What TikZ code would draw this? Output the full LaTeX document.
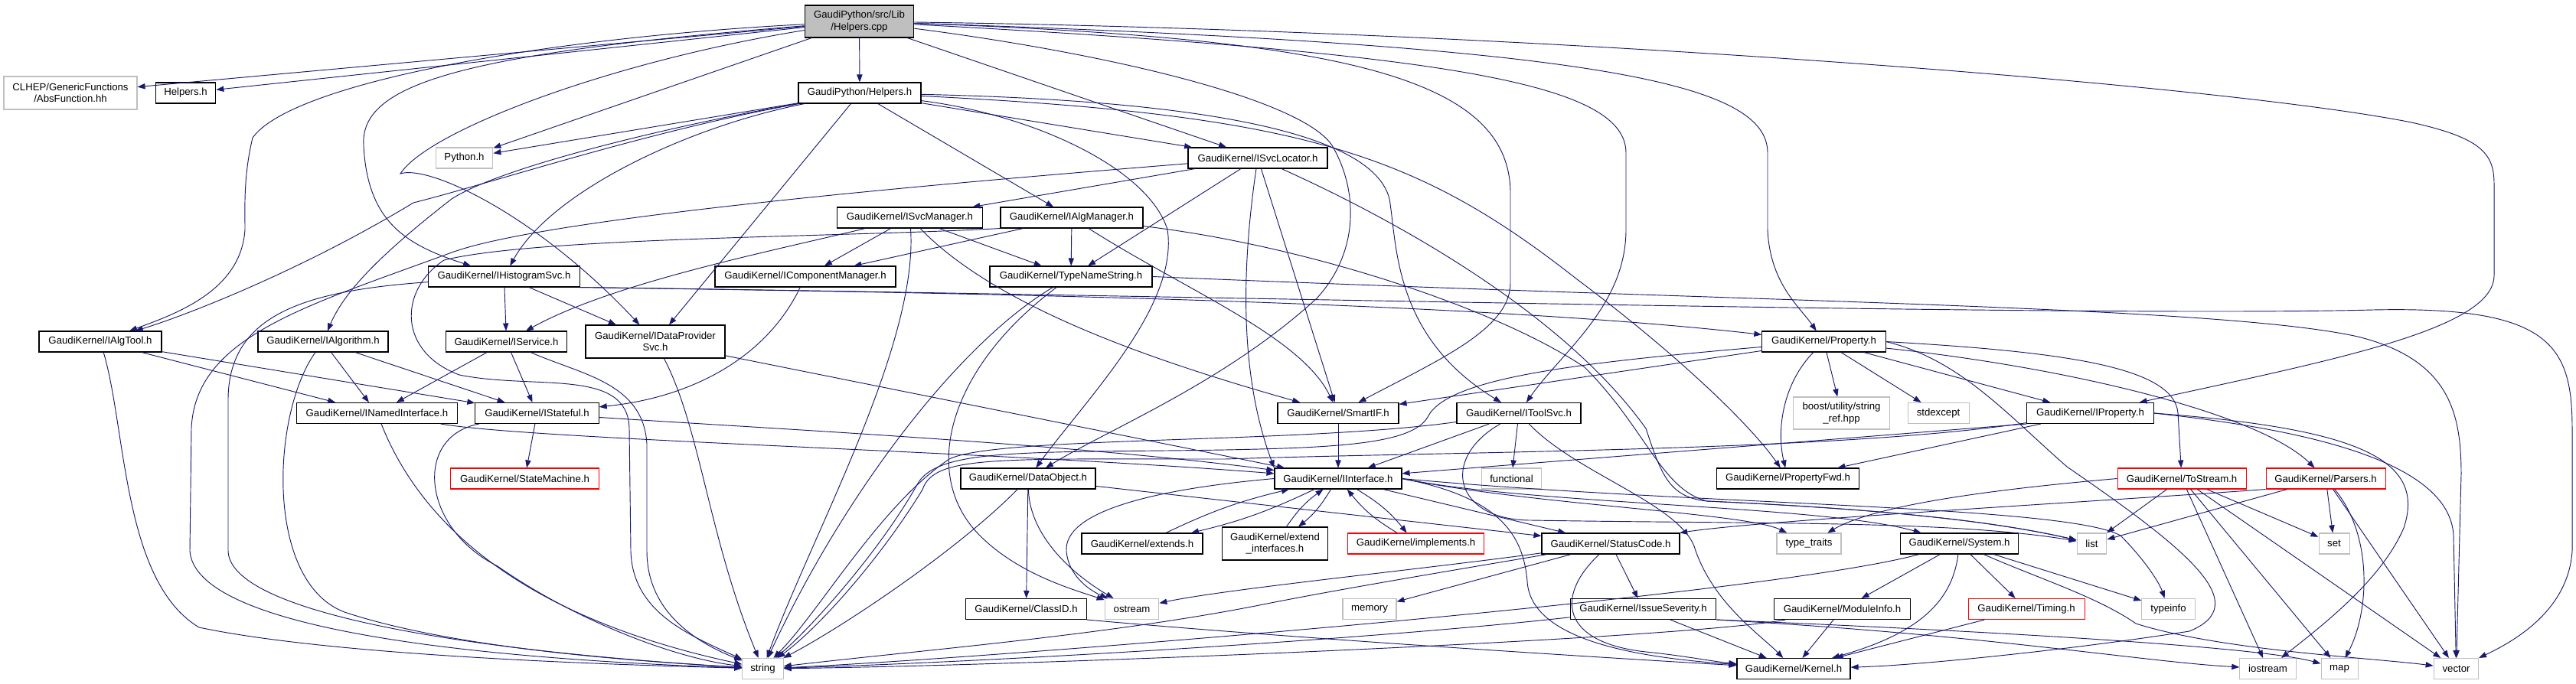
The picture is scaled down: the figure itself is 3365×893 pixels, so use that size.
\documentclass[tikz,border=0pt]{standalone}
\usepackage{fontspec}
\setmainfont{Liberation Sans}
\usepackage{tikz}
\usetikzlibrary{arrows.meta}
\definecolor{edgeBlue}{HTML}{191970}
\definecolor{sysGrey}{HTML}{BFBFBF}
\definecolor{rootGrey}{HTML}{BFBFBF}
\definecolor{truncRed}{HTML}{FF0000}
\tikzset{
  filebox/.style={rectangle, draw=black, fill=white, line width=0.8pt, align=center, font=\fontsize{9.9pt}{11.6pt}\selectfont, minimum height=20.25pt, inner xsep=2pt, inner ysep=1pt},
  sysbox/.style={filebox, draw=sysGrey},
  redbox/.style={filebox, draw=truncRed},
  rootbox/.style={filebox, fill=rootGrey},
  incarrow/.style={-{Triangle[length=7.5pt,width=5.5pt]}, line width=0.7pt, draw=edgeBlue},
}

\begin{document}
\begin{tikzpicture}[x=0.75pt,y=-0.75pt]
  \useasboundingbox (0,0) rectangle (3365,893);
  % --- files ---
  \node[rootbox, minimum width=107pt, minimum height=31.5pt] (cpp) at (1122.5,28) {GaudiPython/src/Lib\\/Helpers.cpp};
  \node[sysbox, minimum width=130.5pt, minimum height=32.25pt] (absfn) at (92,121.5) {CLHEP/GenericFunctions\\/AbsFunction.hh};
  \node[filebox, minimum width=59pt] (helpersh) at (242.5,121.5) {Helpers.h};
  \node[filebox, minimum width=120pt] (gph) at (1123,121.5) {GaudiPython/Helpers.h};
  \node[sysbox, minimum width=56pt] (python) at (606.5,206.5) {Python.h};
  \node[filebox, minimum width=136.5pt] (isvcloc) at (1643,206.5) {GaudiKernel/ISvcLocator.h};
  \node[filebox, minimum width=142pt] (isvcmgr) at (1188.5,284.5) {GaudiKernel/ISvcManager.h};
  \node[filebox, minimum width=139.5pt] (ialgmgr) at (1400,284.5) {GaudiKernel/IAlgManager.h};
  \node[filebox, minimum width=148pt] (ihist) at (658.5,361.5) {GaudiKernel/IHistogramSvc.h};
  \node[filebox, minimum width=177pt] (icompmgr) at (1052,361.5) {GaudiKernel/IComponentManager.h};
  \node[filebox, minimum width=159pt] (typename) at (1399,361.5) {GaudiKernel/TypeNameString.h};
  \node[filebox, minimum width=120pt] (ialgtool) at (131,446.5) {GaudiKernel/IAlgTool.h};
  \node[filebox, minimum width=127.5pt] (ialgorithm) at (422,446.5) {GaudiKernel/IAlgorithm.h};
  \node[filebox, minimum width=119pt] (iservice) at (661.5,446.5) {GaudiKernel/IService.h};
  \node[filebox, minimum width=136.5pt, minimum height=32.25pt] (idps) at (856,446.5) {GaudiKernel/IDataProvider\\Svc.h};
  \node[filebox, minimum width=121pt] (property) at (2382.5,446.5) {GaudiKernel/Property.h};
  \node[filebox, minimum width=157pt] (inamed) at (492.5,540) {GaudiKernel/INamedInterface.h};
  \node[filebox, minimum width=121pt] (istateful) at (701.5,540) {GaudiKernel/IStateful.h};
  \node[filebox, minimum width=118.5pt] (smartif) at (1748,540) {GaudiKernel/SmartIF.h};
  \node[filebox, minimum width=121.5pt] (itoolsvc) at (1984,540) {GaudiKernel/IToolSvc.h};
  \node[sysbox, minimum width=94pt, minimum height=31.5pt] (boost) at (2405.5,540) {boost/utility/string\\\_ref.hpp};
  \node[sysbox, minimum width=60pt] (stdexcept) at (2532,540) {stdexcept};
  \node[filebox, minimum width=124pt] (iproperty) at (2730.5,540) {GaudiKernel/IProperty.h};
  \node[redbox, minimum width=145pt] (statemachine) at (685.5,625.5) {GaudiKernel/StateMachine.h};
  \node[filebox, minimum width=132pt] (dataobject) at (1343,625.5) {GaudiKernel/DataObject.h};
  \node[filebox, minimum width=124.5pt] (iinterface) at (1748,625.5) {GaudiKernel/IInterface.h};
  \node[sysbox, minimum width=59pt] (functional) at (1974.5,625.5) {functional};
  \node[filebox, minimum width=140pt] (propertyfwd) at (2335.5,625.5) {GaudiKernel/PropertyFwd.h};
  \node[redbox, minimum width=126pt] (tostream) at (2850,625.5) {GaudiKernel/ToStream.h};
  \node[redbox, minimum width=117pt] (parsers) at (3038,625.5) {GaudiKernel/Parsers.h};
  \node[filebox, minimum width=118.5pt] (extends) at (1492,710.5) {GaudiKernel/extends.h};
  \node[filebox, minimum width=104pt, minimum height=32.25pt] (extendif) at (1665.5,710.5) {GaudiKernel/extend\\\_interfaces.h};
  \node[redbox, minimum width=134pt] (implements) at (1849.5,710.5) {GaudiKernel/implements.h};
  \node[filebox, minimum width=135pt] (statuscode) at (2104,710.5) {GaudiKernel/StatusCode.h};
  \node[sysbox, minimum width=63pt] (typetraits) at (2363,710.5) {type\_traits};
  \node[filebox, minimum width=116pt] (system) at (2559.5,710.5) {GaudiKernel/System.h};
  \node[sysbox, minimum width=29pt] (list) at (2732.5,710.5) {list};
  \node[sysbox, minimum width=30pt] (set) at (3049,710.5) {set};
  \node[filebox, minimum width=118pt] (classid) at (1340.5,796) {GaudiKernel/ClassID.h};
  \node[sysbox, minimum width=53pt] (ostream) at (1478.5,796) {ostream};
  \node[sysbox, minimum width=52.5pt] (memory) at (1789,796) {memory};
  \node[filebox, minimum width=143pt] (issue) at (2146.5,796) {GaudiKernel/IssueSeverity.h};
  \node[filebox, minimum width=133pt] (moduleinfo) at (2406.5,796) {GaudiKernel/ModuleInfo.h};
  \node[redbox, minimum width=114pt] (timing) at (2647,796) {GaudiKernel/Timing.h};
  \node[sysbox, minimum width=52pt] (typeinfo) at (2832.5,796) {typeinfo};
  \node[sysbox, minimum width=40pt] (string) at (996.5,874) {string};
  \node[filebox, minimum width=111pt] (kernel) at (2343,874) {GaudiKernel/Kernel.h};
  \node[sysbox, minimum width=55pt] (iostream) at (2962.5,874) {iostream};
  \node[sysbox, minimum width=36pt] (map) at (3056,874) {map};
  \node[sysbox, minimum width=44pt] (vector) at (3208.5,874) {vector};
  % --- includes ---
  \draw[incarrow] (cpp) -- (absfn);
  \draw[incarrow] (cpp) -- (helpersh);
  \draw[incarrow] (cpp) -- (gph);
  \draw[incarrow] (cpp) -- (python);
  \draw[incarrow] (cpp) -- (isvcloc);
  \draw[incarrow] (cpp) .. controls (600,70) and (470,110) .. (475,190) .. controls (480,290) and (530,320) .. (ihist);
  \draw[incarrow] (cpp) .. controls (800,80) and (560,170) .. (523,227) .. controls (560,215) and (700,280) .. (idps);
  \draw[incarrow] (cpp) .. controls (700,50) and (380,110) .. (330,180) .. controls (318,230) and (320,270) .. (320,300) .. controls (315,380) and (230,410) .. (ialgtool);
  \draw[incarrow] (cpp) .. controls (1450,70) and (1700,130) .. (1740,190) .. controls (1775,250) and (1775,330) .. (1720,390) .. controls (1600,500) and (1450,560) .. (dataobject);
  \draw[incarrow] (cpp) .. controls (1750,50) and (1970,100) .. (1973,250) -- (1973,370) .. controls (1973,430) and (1880,470) .. (smartif);
  \draw[incarrow] (cpp) .. controls (1900,70) and (2124,110) .. (2124,200) -- (2124,300) .. controls (2124,400) and (2040,460) .. (itoolsvc);
  \draw[incarrow] (cpp) .. controls (2100,60) and (2309,110) .. (2309,200) -- (2309,300) .. controls (2312,370) and (2350,400) .. (property);
  \draw[incarrow] (cpp) .. controls (2000,40) and (2900,110) .. (3150,160) .. controls (3240,180) and (3258,200) .. (3258,240) -- (3258,360) .. controls (3258,430) and (3050,470) .. (iproperty);
  \draw[incarrow] (gph) -- (python);
  \draw[incarrow] (gph) -- (isvcloc);
  \draw[incarrow] (gph) -- (ialgmgr);
  \draw[incarrow] (gph) -- (idps);
  \draw[incarrow] (gph) .. controls (850,170) and (640,240) .. (540,265) .. controls (400,350) and (250,410) .. (ialgtool);
  \draw[incarrow] (gph) .. controls (900,160) and (660,215) .. (590,260) .. controls (500,330) and (450,380) .. (ialgorithm);
  \draw[incarrow] (gph) .. controls (900,165) and (720,250) .. (ihist);
  \draw[incarrow] (gph) .. controls (1350,150) and (1500,220) .. (1525,300) .. controls (1540,400) and (1420,520) .. (dataobject);
  \draw[incarrow] (gph) .. controls (1500,130) and (1790,160) .. (1815,260) .. controls (1825,320) and (1820,440) .. (itoolsvc);
  \draw[incarrow] (gph) .. controls (1700,150) and (1850,200) .. (2060,365) .. controls (2200,470) and (2290,560) .. (propertyfwd);
  \draw[incarrow] (isvcloc) -- (isvcmgr);
  \draw[incarrow] (isvcloc) -- (typename);
  \draw[incarrow] (isvcloc) -- (smartif);
  \draw[incarrow] (isvcloc) .. controls (1625,330) and (1615,480) .. (iinterface.north west);
  \draw[incarrow] (isvcloc) .. controls (1100,250) and (700,290) .. (590,330) .. controls (400,400) and (255,440) .. (250,560) -- (248,720) .. controls (255,820) and (600,860) .. (string);
  \draw[incarrow] (isvcloc) .. controls (1850,300) and (2050,420) .. (2150,560) .. controls (2170,620) and (2180,650) .. (2230,655) .. controls (2450,665) and (2600,680) .. (list);
  \draw[incarrow] (isvcmgr) -- (icompmgr);
  \draw[incarrow] (isvcmgr) -- (typename);
  \draw[incarrow] (isvcmgr) .. controls (1000,330) and (800,370) .. (iservice);
  \draw[incarrow] (isvcmgr) .. controls (1300,400) and (1500,470) .. (smartif);
  \draw[incarrow] (isvcmgr) .. controls (1200,450) and (1060,700) .. (string);
  \draw[incarrow] (ialgmgr) -- (icompmgr);
  \draw[incarrow] (ialgmgr) -- (typename);
  \draw[incarrow] (ialgmgr) .. controls (1550,380) and (1700,440) .. (smartif);
  \draw[incarrow] (ialgmgr.south west) .. controls (1100,310) and (700,310) .. (580,340) .. controls (520,380) and (520,460) .. (600,490) .. controls (700,510) and (820,480) .. (822,560) -- (824,720) .. controls (826,800) and (900,830) .. (string);
  \draw[incarrow] (ialgmgr) .. controls (1700,320) and (1950,400) .. (2070,480) .. controls (2150,560) and (2170,640) .. (2230,655) .. controls (2450,665) and (2600,680) .. (list);
  \draw[incarrow] (typename) .. controls (1250,450) and (1100,650) .. (string);
  \draw[incarrow] (typename) .. controls (1240,480) and (1200,620) .. (1280,700) .. controls (1330,750) and (1400,770) .. (ostream);
  \draw[incarrow] (typename.east) .. controls (2300,395) and (2900,400) .. (3080,440) .. controls (3200,470) and (3215,540) .. (3215,620) -- (vector);
  \draw[incarrow] (ihist) -- (iservice);
  \draw[incarrow] (ihist) -- (idps);
  \draw[incarrow] (ihist) .. controls (400,380) and (300,410) .. (298,520) -- (298,720) .. controls (300,800) and (600,850) .. (string);
  \draw[incarrow] (ihist.south east) .. controls (1200,382) and (1900,392) .. (property);
  \draw[incarrow] (ihist.south east) .. controls (1500,385) and (2700,415) .. (3100,405) .. controls (3330,400) and (3360,450) .. (3360,560) -- (3360,720) .. controls (3355,800) and (3280,840) .. (vector);
  \draw[incarrow] (idps) -- (iinterface);
  \draw[incarrow] (idps) .. controls (915,560) and (925,700) .. (string);
  \draw[incarrow] (ialgtool) -- (inamed);
  \draw[incarrow] (ialgtool) -- (istateful);
  \draw[incarrow] (ialgtool) .. controls (165,560) and (160,760) .. (260,820) .. controls (450,860) and (850,870) .. (string);
  \draw[incarrow] (ialgorithm) -- (inamed);
  \draw[incarrow] (ialgorithm) -- (istateful);
  \draw[incarrow] (ialgorithm) .. controls (355,540) and (345,760) .. (450,800) .. controls (600,850) and (850,865) .. (string);
  \draw[incarrow] (iservice) -- (inamed);
  \draw[incarrow] (iservice) -- (istateful);
  \draw[incarrow] (iservice) .. controls (760,490) and (840,500) .. (845,580) -- (845,720) .. controls (845,800) and (910,840) .. (string);
  \draw[incarrow] (icompmgr) .. controls (1000,470) and (900,520) .. (istateful);
  \draw[incarrow] (inamed) .. controls (700,575) and (1300,590) .. (iinterface);
  \draw[incarrow] (inamed) .. controls (540,660) and (650,800) .. (string);
  \draw[incarrow] (istateful) -- (statemachine);
  \draw[incarrow] (istateful) .. controls (1000,560) and (1400,580) .. (iinterface);
  \draw[incarrow] (istateful) .. controls (540,570) and (550,690) .. (650,740) .. controls (750,810) and (880,860) .. (string);
  \draw[incarrow] (smartif) -- (iinterface);
  \draw[incarrow] (itoolsvc) -- (iinterface);
  \draw[incarrow] (itoolsvc) -- (functional);
  \draw[incarrow] (itoolsvc) .. controls (1700,580) and (1300,570) .. (1240,600) .. controls (1150,660) and (1070,800) .. (string);
  \draw[incarrow] (itoolsvc) .. controls (1880,600) and (1900,680) .. (2000,680) .. controls (2300,685) and (2550,680) .. (list);
  \draw[incarrow] (itoolsvc) .. controls (2060,620) and (2200,660) .. (2215,720) .. controls (2240,790) and (2300,830) .. (kernel);
  \draw[incarrow] (dataobject) -- (classid);
  \draw[incarrow] (dataobject) .. controls (1345,700) and (1400,750) .. (ostream);
  \draw[incarrow] (dataobject) .. controls (1250,720) and (1100,820) .. (string);
  \draw[incarrow] (dataobject) -- (statuscode);
  \draw[incarrow] (iinterface) -- (statuscode);
  \draw[incarrow] (iinterface.east) .. controls (1960,650) and (1990,700) .. (1995,760) .. controls (2000,840) and (2150,860) .. (kernel);
  \draw[incarrow] (iinterface.east) .. controls (2000,660) and (2380,660) .. (system);
  \draw[incarrow] (iinterface.east) .. controls (2000,660) and (2280,670) .. (typetraits);
  \draw[incarrow] (iinterface.east) .. controls (2200,660) and (2700,660) .. (2770,700) .. controls (2800,730) and (2820,760) .. (typeinfo);
  \draw[incarrow] (iinterface.west) .. controls (1500,640) and (1390,670) .. (1393,720) .. controls (1395,750) and (1420,770) .. (ostream);
  \draw[incarrow] (iinterface) to[bend left=6] (extends);
  \draw[incarrow] (extends) to[bend left=6] (iinterface);
  \draw[incarrow] (iinterface) to[bend left=10] (extendif);
  \draw[incarrow] (extendif) to[bend left=10] (iinterface);
  \draw[incarrow] (iinterface) to[bend left=10] (implements);
  \draw[incarrow] (implements) to[bend left=10] (iinterface);
  \draw[incarrow] (property) -- (smartif);
  \draw[incarrow] (property) .. controls (2330,500) and (2320,560) .. (propertyfwd);
  \draw[incarrow] (property) -- (boost);
  \draw[incarrow] (property) -- (stdexcept);
  \draw[incarrow] (property) -- (iproperty);
  \draw[incarrow] (property.east) .. controls (2700,460) and (2840,480) .. (2845,540) -- (tostream);
  \draw[incarrow] (property) .. controls (2700,480) and (2950,540) .. (parsers);
  \draw[incarrow] (property) .. controls (2050,475) and (1890,495) .. (1865,545) .. controls (1845,580) and (1750,585) .. (1600,588) .. controls (1350,592) and (1230,585) .. (1200,630) .. controls (1150,720) and (1060,820) .. (string);
  \draw[incarrow] (property.east) .. controls (2560,470) and (2620,540) .. (2700,610) .. controls (2860,720) and (2945,790) .. (2860,825) .. controls (2700,850) and (2500,870) .. (kernel);
  \draw[incarrow] (iproperty.south west) -- (iinterface);
  \draw[incarrow] (iproperty) -- (propertyfwd);
  \draw[incarrow] (iproperty) .. controls (2400,590) and (1900,590) .. (1600,600) .. controls (1300,600) and (1220,595) .. (1205,640) .. controls (1150,730) and (1070,820) .. (string);
  \draw[incarrow] (iproperty.east) .. controls (3000,560) and (3200,600) .. (3205,700) -- (vector);
  \draw[incarrow] (iproperty.east) .. controls (3080,560) and (3170,600) .. (3140,690) .. controls (3110,760) and (3030,820) .. (iostream);
  \draw[incarrow] (tostream) -- (list);
  \draw[incarrow] (tostream) -- (set);
  \draw[incarrow] (tostream) -- (iostream);
  \draw[incarrow] (tostream) -- (map);
  \draw[incarrow] (tostream) -- (vector);
  \draw[incarrow] (tostream.west) .. controls (2600,640) and (2450,660) .. (typetraits);
  \draw[incarrow] (parsers) -- (list);
  \draw[incarrow] (parsers) -- (set);
  \draw[incarrow] (parsers) .. controls (3100,700) and (3095,800) .. (map);
  \draw[incarrow] (parsers) -- (vector);
  \draw[incarrow] (parsers.south west) .. controls (2750,655) and (2300,680) .. (statuscode);
  \draw[incarrow] (statuscode) -- (memory);
  \draw[incarrow] (statuscode) -- (issue);
  \draw[incarrow] (statuscode) .. controls (1850,745) and (1600,770) .. (ostream);
  \draw[incarrow] (statuscode) .. controls (2030,780) and (2040,840) .. (2150,852) .. controls (2200,857) and (2240,865) .. (kernel);
  \draw[incarrow] (statuscode) .. controls (1900,745) and (1750,770) .. (1650,790) .. controls (1450,830) and (1200,850) .. (string);
  \draw[incarrow] (issue) -- (kernel);
  \draw[incarrow] (issue) .. controls (1800,835) and (1300,865) .. (string);
  \draw[incarrow] (issue.south east) .. controls (2600,825) and (2950,845) .. (map);
  \draw[incarrow] (issue.south east) .. controls (2600,830) and (2800,865) .. (iostream);
  \draw[incarrow] (moduleinfo) -- (kernel);
  \draw[incarrow] (moduleinfo) .. controls (2200,835) and (1350,870) .. (string);
  \draw[incarrow] (system) .. controls (2550,790) and (2500,830) .. (kernel);
  \draw[incarrow] (system) -- (moduleinfo);
  \draw[incarrow] (system) -- (timing);
  \draw[incarrow] (system) -- (typeinfo);
  \draw[incarrow] (system) .. controls (2300,780) and (1300,860) .. (string);
  \draw[incarrow] (system) .. controls (2660,755) and (2740,780) .. (2790,815) .. controls (2900,850) and (3100,860) .. (vector);
  \draw[incarrow] (timing) -- (kernel);
  \draw[incarrow] (classid.south east) .. controls (1700,835) and (2100,860) .. (kernel);
\end{tikzpicture}
\end{document}
